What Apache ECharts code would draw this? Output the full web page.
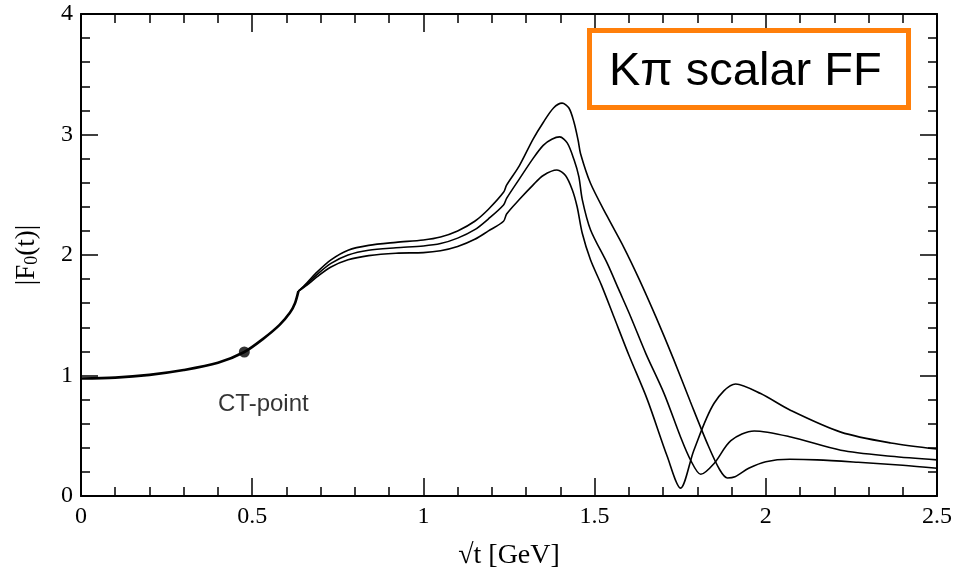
<!DOCTYPE html>
<html>
<head>
<meta charset="utf-8">
<script src="https://cdn.jsdelivr.net/npm/echarts@6/dist/echarts.min.js"></script>
<style>
  html, body { margin: 0; padding: 0; background: #fff; }
  #chart { width: 953px; height: 569px; }
</style>
</head>
<body>
<div id="chart"></div>
<script>
// common curve below the K-pi threshold
const commonX = [0, 0.1, 0.2, 0.3, 0.4, 0.477, 0.53, 0.58, 0.61, 0.625, 0.635];
const commonY = [0.975, 0.982, 1.005, 1.045, 1.105, 1.195, 1.30, 1.42, 1.52, 1.60, 1.70];

// upper band (highest peak)
const upperX = [0.635, 0.66, 0.69, 0.73, 0.78, 0.84, 0.92, 1.00, 1.05, 1.10, 1.15, 1.19, 1.234, 1.243, 1.28, 1.32, 1.35, 1.38, 1.405, 1.425, 1.44, 1.452, 1.459, 1.488, 1.537, 1.586, 1.63, 1.68, 1.73, 1.78, 1.83, 1.865, 1.888, 1.91, 1.95, 2.00, 2.07, 2.15, 2.27, 2.40, 2.5];
const upperY = [1.70, 1.77, 1.86, 1.96, 2.04, 2.08, 2.105, 2.125, 2.15, 2.20, 2.28, 2.38, 2.52, 2.58, 2.74, 2.96, 3.10, 3.22, 3.26, 3.22, 3.10, 2.95, 2.84, 2.595, 2.32, 2.06, 1.80, 1.48, 1.14, 0.78, 0.43, 0.22, 0.15, 0.16, 0.23, 0.285, 0.305, 0.30, 0.28, 0.255, 0.23];

// central curve
const centralX = [0.635, 0.66, 0.69, 0.73, 0.78, 0.84, 0.92, 1.00, 1.05, 1.10, 1.15, 1.19, 1.234, 1.243, 1.28, 1.32, 1.35, 1.375, 1.398, 1.42, 1.44, 1.454, 1.464, 1.488, 1.537, 1.571, 1.605, 1.65, 1.703, 1.751, 1.78, 1.81, 1.849, 1.898, 1.966, 2.073, 2.219, 2.365, 2.5];
const centralY = [1.70, 1.76, 1.84, 1.93, 2.00, 2.04, 2.06, 2.075, 2.095, 2.14, 2.21, 2.30, 2.415, 2.47, 2.63, 2.80, 2.91, 2.96, 2.98, 2.93, 2.79, 2.65, 2.46, 2.21, 1.93, 1.71, 1.49, 1.18, 0.85, 0.49, 0.30, 0.18, 0.27, 0.46, 0.54, 0.49, 0.38, 0.33, 0.30];

// lower band (lowest peak)
const lowerX = [0.635, 0.66, 0.69, 0.73, 0.78, 0.84, 0.92, 1.00, 1.05, 1.10, 1.15, 1.19, 1.234, 1.243, 1.28, 1.32, 1.35, 1.39, 1.415, 1.435, 1.449, 1.464, 1.488, 1.52, 1.556, 1.60, 1.654, 1.712, 1.751, 1.79, 1.849, 1.912, 1.985, 2.073, 2.219, 2.365, 2.5];
const lowerY = [1.70, 1.75, 1.82, 1.90, 1.96, 1.995, 2.015, 2.02, 2.035, 2.07, 2.13, 2.20, 2.28, 2.34, 2.46, 2.58, 2.66, 2.705, 2.66, 2.54, 2.40, 2.18, 1.96, 1.75, 1.49, 1.17, 0.80, 0.33, 0.065, 0.38, 0.77, 0.93, 0.85, 0.71, 0.53, 0.44, 0.39];

// chiral-theory matching point
const ctPoint = [0.477, 1.195];

const xTicks = [0, 0.5, 1, 1.5, 2, 2.5];
const yTicks = [0, 1, 2, 3, 4];

const zip = (xs, ys) => xs.map((x, i) => [x, ys[i]]);

const chart = echarts.init(document.getElementById('chart'));

const serif = 'Liberation Serif, Times New Roman, serif';
const sans = 'Liberation Sans, Arial, sans-serif';

const lineStyleBase = { color: '#000', width: 1.6 };

function frameAxis(extra) {
  return Object.assign({
    type: 'value',
    axisLine: { show: true, onZero: false, lineStyle: { color: '#000', width: 2 } },
    axisTick: { show: true, inside: true, length: 18, lineStyle: { color: '#000', width: 1.5 } },
    minorTick: { show: true, splitNumber: 5, length: 9, lineStyle: { color: '#000', width: 1.5 } },
    splitLine: { show: false },
    minorSplitLine: { show: false }
  }, extra);
}

const option = {
  animation: false,
  backgroundColor: '#fff',
  grid: { left: 81, right: 16, top: 14, bottom: 73, containLabel: false, outerBoundsMode: 'none' },
  xAxis: [
    frameAxis({
      position: 'bottom', min: 0, max: 2.5, interval: 0.5,
      axisLabel: {
        color: '#000', fontFamily: serif, fontSize: 24, margin: 9,
        formatter: v => (xTicks.includes(v) ? String(v) : '')
      },
      name: '√t [GeV]', nameLocation: 'middle', nameGap: 46,
      nameTextStyle: { color: '#000', fontFamily: serif, fontSize: 28 }
    }),
    frameAxis({
      position: 'top', min: 0, max: 2.5, interval: 0.5,
      axisLabel: { show: false }
    })
  ],
  yAxis: [
    frameAxis({
      position: 'left', min: 0, max: 4, interval: 1,
      axisTick: { show: true, inside: true, length: 17, lineStyle: { color: '#000', width: 1.5 } },
      axisLabel: {
        color: '#000', fontFamily: serif, fontSize: 24, margin: 8,
        formatter: v => (yTicks.includes(v) ? String(v) : '')
      },
      name: '|F{sub|0}(t)|', nameLocation: 'middle', nameGap: 40,
      nameTextStyle: {
        color: '#000', fontFamily: serif, fontSize: 27,
        rich: { sub: { fontFamily: serif, fontSize: 18, verticalAlign: 'bottom', padding: [11, 0, 0, 0] } }
      }
    }),
    frameAxis({
      position: 'right', min: 0, max: 4, interval: 1,
      axisTick: { show: true, inside: true, length: 17, lineStyle: { color: '#000', width: 1.5 } },
      axisLabel: { show: false }
    })
  ],
  series: [
    {
      name: 'common', type: 'line', data: zip(commonX, commonY),
      showSymbol: false, smooth: 0.3, lineStyle: { color: '#000', width: 2.6 }, z: 3
    },
    {
      name: 'upper', type: 'line', data: zip(upperX, upperY),
      showSymbol: false, smooth: 0.3, lineStyle: lineStyleBase
    },
    {
      name: 'central', type: 'line', data: zip(centralX, centralY),
      showSymbol: false, smooth: 0.3, lineStyle: lineStyleBase
    },
    {
      name: 'lower', type: 'line', data: zip(lowerX, lowerY),
      showSymbol: false, smooth: 0.3, lineStyle: lineStyleBase
    },
    {
      name: 'CT-point', type: 'scatter', data: [ctPoint],
      symbol: 'circle', symbolSize: 11, itemStyle: { color: '#000' }, z: 5,
      label: {
        show: true, formatter: 'CT-point', position: 'bottom', offset: [19, 30],
        color: '#000', fontFamily: sans, fontSize: 24
      }
    }
  ],
  graphic: [
    {
      type: 'rect', left: 587, top: 28, z: 10,
      shape: { width: 319, height: 77 },
      style: { fill: '#fff', stroke: '#ff7f0a', lineWidth: 5 }
    },
    {
      type: 'text', left: 609, top: 49, z: 11,
      style: { text: 'Kπ scalar FF', fill: '#000', font: '47px ' + sans }
    }
  ]
};

chart.setOption(option);
</script>
</body>
</html>
